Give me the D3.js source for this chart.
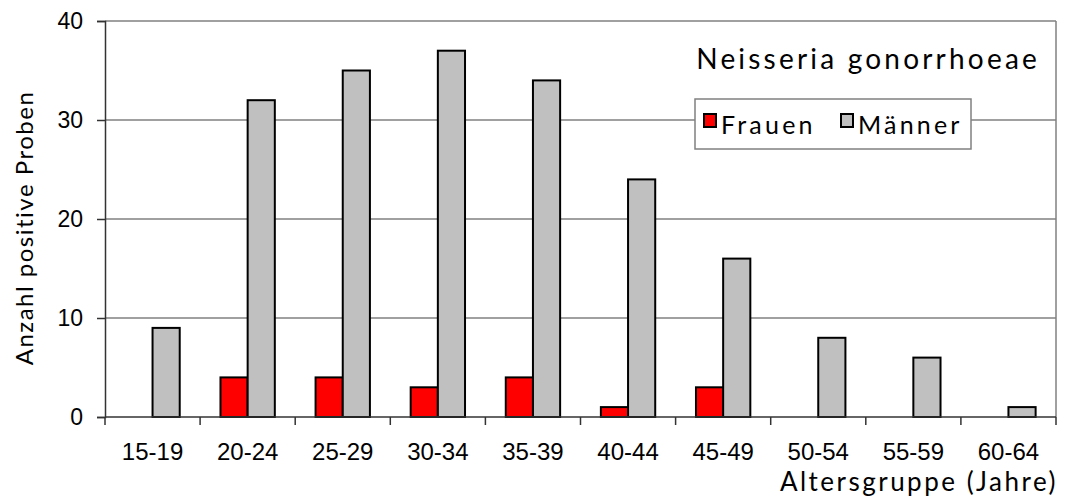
<!DOCTYPE html>
<html>
<head>
<meta charset="utf-8">
<script src="https://cdn.jsdelivr.net/npm/d3@7"></script>
<style>
  body { margin: 0; background: #fff; }
  svg { display: block; }
</style>
</head>
<body>
<div id="chart"></div>
<script>
var groups = ["15-19", "20-24", "25-29", "30-34", "35-39", "40-44", "45-49", "50-54", "55-59", "60-64"];
var frauen = [0, 4, 4, 3, 4, 1, 3, 0, 0, 0];
var maenner = [9, 32, 35, 37, 34, 24, 16, 8, 6, 1];
var series = ["Frauen", "Männer"];
var colors = ["#ff0000", "#c0c0c0"];
var yTicks = [0, 10, 20, 30, 40];

var width = 1066, height = 499;
var margin = {top: 21, right: 10, bottom: 82, left: 105};
var labelFont = "'Liberation Sans', Arial, sans-serif";
var titleFont = "Lato, 'DejaVu Sans', sans-serif";

var svg = d3.select("#chart")
	.append("svg")
	.attr("width", width)
	.attr("height", height);

var x = d3.scaleBand()
	.domain(groups)
	.range([margin.left, width - margin.right]);

var y = d3.scaleLinear()
	.domain([0, 40])
	.range([height - margin.bottom, margin.top]);

// gap width 150% like the original spreadsheet chart
var barW = x.bandwidth() / 3.5;
var inner = d3.scaleBand()
	.domain(series)
	.range([0.75 * barW, 2.75 * barW]);

// (grid) horizontal gridlines
svg.append("g")
	.selectAll("line")
	.data(yTicks.slice(1))
	.enter()
	.append("line")
	.attr("x1", margin.left)
	.attr("x2", width - margin.right)
	.attr("y1", function(d) { return y(d); })
	.attr("y2", function(d) { return y(d); })
	.attr("stroke", "#808080")
	.attr("stroke-width", 1.5);

// right border of plot area
svg.append("line")
	.attr("x1", width - margin.right)
	.attr("x2", width - margin.right)
	.attr("y1", y(40))
	.attr("y2", y(0))
	.attr("stroke", "#808080")
	.attr("stroke-width", 1.5);

// (bars)
var data = groups.map(function(g, i) {
	return [{g: g, s: "Frauen", v: frauen[i]}, {g: g, s: "Männer", v: maenner[i]}];
});

svg.append("g")
	.selectAll("g")
	.data(data)
	.enter()
	.append("g")
	.attr("transform", function(d) { return "translate(" + x(d[0].g) + ",0)"; })
	.selectAll("rect")
	.data(function(d) { return d.filter(function(e) { return e.v > 0; }); })
	.enter()
	.append("rect")
	.attr("x", function(d) { return inner(d.s); })
	.attr("width", inner.bandwidth())
	.attr("y", function(d) { return y(d.v); })
	.attr("height", function(d) { return y(0) - y(d.v); })
	.attr("fill", function(d) { return colors[series.indexOf(d.s)]; })
	.attr("stroke", "#000")
	.attr("stroke-width", 2);

// (axes)
var yAxis = svg.append("g")
	.attr("transform", "translate(" + margin.left + ",0)")
	.call(d3.axisLeft(y).tickValues(yTicks).tickSize(8).tickPadding(14));
yAxis.select(".domain").attr("stroke", "#333").attr("stroke-width", 1.5);
yAxis.selectAll(".tick line").attr("stroke", "#333").attr("stroke-width", 1.5);
yAxis.selectAll("text")
	.attr("font-family", labelFont)
	.attr("font-size", 23)
	.attr("fill", "#000");

var xAxis = svg.append("g")
	.attr("transform", "translate(0," + y(0) + ")")
	.call(d3.axisBottom(x).tickSize(0).tickPadding(26));
xAxis.select(".domain").remove();
xAxis.append("line")
	.attr("x1", margin.left)
	.attr("x2", width - margin.right)
	.attr("stroke", "#333")
	.attr("stroke-width", 1.5);
xAxis.selectAll(".sep")
	.data(groups.concat(["end"]))
	.enter()
	.append("line")
	.attr("class", "sep")
	.attr("x1", function(d, i) { return margin.left + i * x.step(); })
	.attr("x2", function(d, i) { return margin.left + i * x.step(); })
	.attr("y1", 0)
	.attr("y2", 8)
	.attr("stroke", "#333")
	.attr("stroke-width", 1.5);
xAxis.selectAll(".tick text")
	.attr("font-family", labelFont)
	.attr("font-size", 24)
	.attr("fill", "#000");

// (titles)
svg.append("text")
	.attr("x", 1058)
	.attr("y", 491)
	.attr("text-anchor", "end")
	.attr("font-family", titleFont)
	.attr("font-size", 26)
	.attr("letter-spacing", 2.5)
	.text("Altersgruppe (Jahre)");

svg.append("text")
	.attr("transform", "translate(33,228) rotate(-90)")
	.attr("text-anchor", "middle")
	.attr("font-family", titleFont)
	.attr("font-size", 24)
	.attr("letter-spacing", 1.5)
	.text("Anzahl positive Proben");

svg.append("text")
	.attr("x", 1040)
	.attr("y", 69)
	.attr("text-anchor", "end")
	.attr("font-family", titleFont)
	.attr("font-size", 28)
	.attr("letter-spacing", 3.2)
	.text("Neisseria gonorrhoeae");

// (legend)
var legend = svg.append("g");
legend.append("rect")
	.attr("x", 695)
	.attr("y", 99)
	.attr("width", 276)
	.attr("height", 50)
	.attr("fill", "#fff")
	.attr("stroke", "#808080")
	.attr("stroke-width", 1.5);
var legendX = [704, 841];
series.forEach(function(s, i) {
	legend.append("rect")
		.attr("x", legendX[i])
		.attr("y", 114)
		.attr("width", 12)
		.attr("height", 13)
		.attr("fill", colors[i])
		.attr("stroke", "#000")
		.attr("stroke-width", 2);
	legend.append("text")
		.attr("x", legendX[i] + 17)
		.attr("y", 134)
		.attr("font-family", titleFont)
		.attr("font-size", 25)
		.attr("letter-spacing", 3.2)
		.text(s);
});
</script>
</body>
</html>
